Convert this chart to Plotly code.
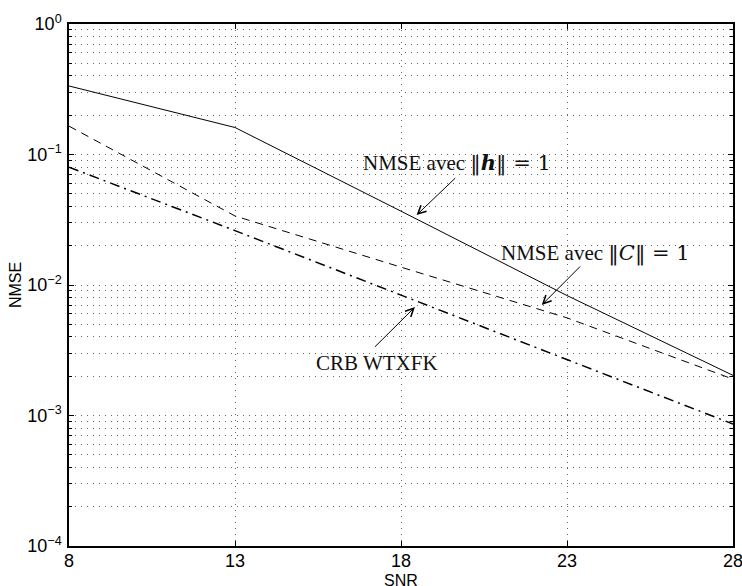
import plotly.graph_objects as go

# SNR points (dB)
snr = [8, 13, 18, 23, 28]

# NMSE curves
nmse_h_norm = [0.335, 0.161, 0.0368, 0.0083, 0.00203]   # ||h|| = 1
nmse_c_norm = [0.165, 0.0338, 0.0137, 0.0056, 0.00190]  # ||C|| = 1
crb_wtxfk = [0.080, 0.0261, 0.00837, 0.00269, 0.00086]  # CRB WTXFK

# axis ticks
x_ticks = [8, 13, 18, 23, 28]
y_ticks = [1e-4, 1e-3, 1e-2, 1e-1, 1e0]
y_tick_labels = ["10<sup>\u22124</sup>", "10<sup>\u22123</sup>", "10<sup>\u22122</sup>",
                 "10<sup>\u22121</sup>", "10<sup>0</sup>"]

minor_y = [k * 10.0 ** e for e in range(-4, 0) for k in range(2, 10)]

GRID = "#666666"
GRID_DASH = "1px,5px"
SANS = "Liberation Sans, Arial, sans-serif"
SERIF = "Liberation Serif, Times New Roman, serif"
MATH = "font-family:'DejaVu Serif'"

fig = go.Figure()
fig.add_trace(go.Scatter(x=snr, y=nmse_h_norm, mode="lines",
                         line=dict(color="black", width=1)))
fig.add_trace(go.Scatter(x=snr, y=nmse_c_norm, mode="lines",
                         line=dict(color="black", width=1, dash="8px,6px")))
fig.add_trace(go.Scatter(x=snr, y=crb_wtxfk, mode="lines",
                         line=dict(color="black", width=1.5, dash="10px,5px,2px,5px")))

fig.update_layout(
    width=742, height=586,
    margin=dict(l=69, r=9, t=24, b=40),
    paper_bgcolor="white", plot_bgcolor="white",
    showlegend=False,
    font=dict(family=SANS, size=18, color="black"),
)

fig.update_xaxes(
    range=[8, 28], tickmode="array", tickvals=x_ticks,
    ticks="inside", ticklen=5, tickcolor="black", tickwidth=1,
    showline=True, linecolor="black", linewidth=1.5, mirror="ticks",
    showgrid=True, gridcolor=GRID, griddash=GRID_DASH, gridwidth=1,
    zeroline=False, ticklabelposition="outside", ticklabelstandoff=-2,
    ticklabeloverflow="allow", automargin=False,
    tickfont=dict(family=SANS, size=18),
)

fig.update_yaxes(
    type="log", range=[-4, 0], tickmode="array", tickvals=y_ticks,
    ticktext=y_tick_labels,
    ticks="inside", ticklen=5, tickcolor="black", tickwidth=1,
    showline=True, linecolor="black", linewidth=1.5, mirror="ticks",
    showgrid=True, gridcolor=GRID, griddash=GRID_DASH, gridwidth=1,
    zeroline=False, ticklabelstandoff=2, ticklabeloverflow="allow",
    automargin=False,
    tickfont=dict(family=SANS, size=18),
    minor=dict(tickmode="array", tickvals=minor_y, ticks="inside", ticklen=3,
               tickcolor="black", showgrid=True, gridcolor=GRID,
               griddash=GRID_DASH, gridwidth=1),
    title=dict(text="NMSE", font=dict(family=SANS, size=16), standoff=2),
)

# x-axis title placed just under the tick labels
fig.add_annotation(x=0.5, y=-0.067, xref="paper", yref="paper", text="SNR",
                   showarrow=False, yanchor="middle",
                   font=dict(family=SANS, size=16, color="black"))

# text labels for each curve
labels = [
    (f"NMSE avec <span style=\"{MATH}\">\u2016<b><i>h</i></b>\u2016 = 1</span>", 19.68, -1.065),
    (f"NMSE avec <span style=\"{MATH}\">\u2016<i>C</i>\u2016 = 1</span>", 23.87, -1.755),
    ("CRB WTXFK", 17.28, -2.598),
]
for text, x, ly in labels:
    fig.add_annotation(x=x, y=ly, xref="x", yref="y", text=text, showarrow=False,
                       font=dict(family=SERIF, size=21, color="#111111"))

# arrows: (head x, head log-y, tail x, tail log-y)
arrows = [
    (18.47, -1.464, 19.68, -1.170),
    (22.24, -2.153, 23.44, -1.847),
    (18.42, -2.169, 17.17, -2.485),
]
for hx, hy, tx, ty in arrows:
    fig.add_annotation(x=hx, y=hy, ax=tx, ay=ty, xref="x", yref="y",
                       axref="x", ayref="y", text="", showarrow=True,
                       arrowhead=5, arrowsize=1.6, arrowwidth=1, arrowcolor="black")

fig.write_html("out.html")
